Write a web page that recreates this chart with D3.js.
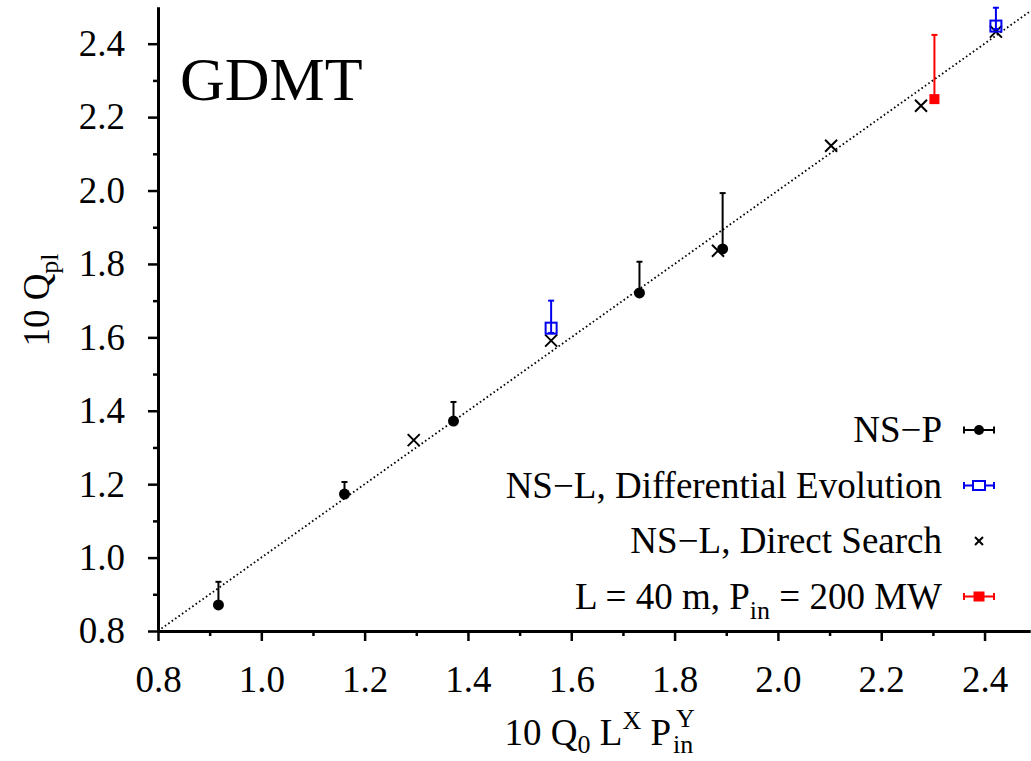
<!DOCTYPE html>
<html>
<head>
<meta charset="utf-8">
<script src="https://cdn.jsdelivr.net/npm/d3@7"></script>
</head>
<body style="margin:0">
<script>
// values
const nspX=[0.917,1.161,1.372,1.732,1.893],
nspY=[0.871,1.173,1.372,1.721,1.841],
nspHi=[0.934,1.206,1.424,1.806,1.993];

const deX=[1.561,2.422],
deY=[1.625,2.448],
deHi=[1.700,2.498],
deLo=[1.612,2.440];

const dsX=[1.295,1.561,1.884,2.103,2.277,2.422],
dsY=[1.320,1.591,1.836,2.122,2.231,2.433];

const redX=[2.303],redY=[2.249],redHi=[2.424];

const majorTicks=[0.8,1.0,1.2,1.4,1.6,1.8,2.0,2.2,2.4],
minorTicks=[0.9,1.1,1.3,1.5,1.7,1.9,2.1,2.3],
legendLabels=["NS\u2212P","NS\u2212L, Differential Evolution","NS\u2212L, Direct Search","L = 40 m, P"];

const W=1031,H=761,fs=37;

const svg=d3.select("body").append("svg")
 .attr("width",W).attr("height",H);

function addText(parent,px,py,size,str){
 return parent.append("text").attr("x",px).attr("y",py)
  .style("font-family",'"Liberation Serif"')
  .style("font-size",size+"px")
  .text(str);
}

const x=d3.scaleLinear().domain([0.8,2.488]).range([158,1030]);
const y=d3.scaleLinear().domain([0.8,2.5]).range([631,7]);

// diagonal dotted line y = x
const lineEnd=Math.min(x.domain()[1],y.domain()[1]);
svg.append("line")
 .attr("x1",x(0.8)).attr("y1",y(0.8))
 .attr("x2",x(lineEnd)).attr("y2",y(lineEnd))
 .attr("stroke","#000").attr("stroke-width",1.8)
 .attr("stroke-dasharray","1.6,2.6");

// axes
const xAxis=d3.axisBottom(x).tickValues(majorTicks).tickFormat(d3.format(".1f"))
 .tickSize(10).tickSizeOuter(0).tickPadding(25);
const xMinor=d3.axisBottom(x).tickValues(minorTicks).tickFormat("").tickSize(5).tickSizeOuter(0);
const yAxis=d3.axisLeft(y).tickValues(majorTicks).tickFormat(d3.format(".1f"))
 .tickSize(10).tickSizeOuter(0).tickPadding(23);
const yMinor=d3.axisLeft(y).tickValues(minorTicks).tickFormat("").tickSize(5).tickSizeOuter(0);

[[xAxis,"x"],[xMinor,"x"],[yAxis,"y"],[yMinor,"y"]].forEach(([ax,k])=>{
 const g=svg.append("g")
  .attr("transform",k=="x"?`translate(0,${y(0.8)})`:`translate(${x(0.8)},0)`)
  .call(ax);
 g.attr("font-family",null).attr("font-size",null);
 g.select(".domain").attr("stroke-width",3);
 g.selectAll(".tick line").attr("stroke-width",2.5);
 g.selectAll(".tick text").style("font-family",'"Liberation Serif"').style("font-size",fs+"px");
});

// error bars
function errBars(xs,ys,hi,lo,color){
 xs.forEach((xv,i)=>{
  const top=y(hi[i]),bot=lo?y(lo[i]):y(ys[i]);
  svg.append("line").attr("x1",x(xv)).attr("x2",x(xv))
   .attr("y1",bot).attr("y2",top).attr("stroke",color).attr("stroke-width",2);
  svg.append("line").attr("x1",x(xv)-3).attr("x2",x(xv)+3)
   .attr("y1",top).attr("y2",top).attr("stroke",color).attr("stroke-width",2);
  if(lo){
   svg.append("line").attr("x1",x(xv)-3).attr("x2",x(xv)+3)
    .attr("y1",bot).attr("y2",bot).attr("stroke",color).attr("stroke-width",2);
  }
 });
}

errBars(nspX,nspY,nspHi,null,"#000");
errBars(redX,redY,redHi,null,"#ff0000");

// NS-L direct search crosses
function cross(g,cx,cy,s){
 g.append("path")
  .attr("d",`M${cx-s},${cy-s}L${cx+s},${cy+s}M${cx-s},${cy+s}L${cx+s},${cy-s}`)
  .attr("stroke","#000").attr("stroke-width",2).attr("fill","none");
}
dsX.forEach((xv,i)=>cross(svg,x(xv),y(dsY[i]),6));

// NS-P filled circles
svg.selectAll(".nsp").data(nspX).enter().append("circle")
 .attr("cx",d=>x(d)).attr("cy",(d,i)=>y(nspY[i]))
 .attr("r",5.5).attr("fill","#000");

// DE open squares
errBars(deX,deY,deHi,deLo,"#0000ee");
svg.selectAll(".de").data(deX).enter().append("rect")
 .attr("x",d=>x(d)-5.5).attr("y",(d,i)=>y(deY[i])-5.5)
 .attr("width",11).attr("height",11)
 .attr("fill","none").attr("stroke","#0000ee").attr("stroke-width",2);

// red square
svg.selectAll(".red").data(redX).enter().append("rect")
 .attr("x",d=>x(d)-5).attr("y",(d,i)=>y(redY[i])-5)
 .attr("width",10).attr("height",10).attr("fill","#ff0000");

// title
addText(svg,180,100,62,"GDMT");

// x label: 10 Q0 L^X P_in^Y
const xl=addText(svg,671,745,fs,"").attr("text-anchor","end");
xl.append("tspan").text("10 Q");
xl.append("tspan").attr("dy",8).style("font-size","26px").text("0");
xl.append("tspan").attr("dy",-8).text(" L");
xl.append("tspan").attr("dy",-16).style("font-size","26px").text("X");
xl.append("tspan").attr("dy",16).text(" P");
addText(svg,673,753,26,"in");
addText(svg,676,727,26,"Y");

// y label
const yl=addText(svg,0,0,fs,"")
 .attr("transform","translate(49,300) rotate(-90)")
 .attr("text-anchor","middle");
yl.append("tspan").text("10 Q");
yl.append("tspan").attr("dy",9).style("font-size","26px").text("pl");

// legend
const legColors=["#000","#0000ee","#000","#ff0000"];
const leg=svg.append("g");
legendLabels.forEach((lab,i)=>{
 const by=442+i*55.5,sy=by-12,sx=979;
 const t=addText(leg,942,by,fs,"").attr("text-anchor","end");
 t.append("tspan").text(lab);
 if(i==3){
  t.append("tspan").attr("dy",10).style("font-size","26px").text("in");
  t.append("tspan").attr("dy",-10).text(" = 200 MW");
 }
 const c=legColors[i];
 if(i!=2){
  leg.append("path")
   .attr("d",`M${sx-15},${sy}L${sx+15},${sy}M${sx-15},${sy-3.5}L${sx-15},${sy+3.5}M${sx+15},${sy-3.5}L${sx+15},${sy+3.5}`)
   .attr("stroke",c).attr("stroke-width",2).attr("fill","none");
 }
 if(i==0) leg.append("circle").attr("cx",sx).attr("cy",sy).attr("r",5).attr("fill",c);
 if(i==1) leg.append("rect").attr("x",sx-6).attr("y",sy-4.5).attr("width",12).attr("height",9)
  .attr("fill","#fff").attr("stroke",c).attr("stroke-width",2);
 if(i==2) cross(leg,sx,sy,4);
 if(i==3) leg.append("rect").attr("x",sx-5.5).attr("y",sy-5).attr("width",11).attr("height",10).attr("fill",c);
});
</script>
</body>
</html>
